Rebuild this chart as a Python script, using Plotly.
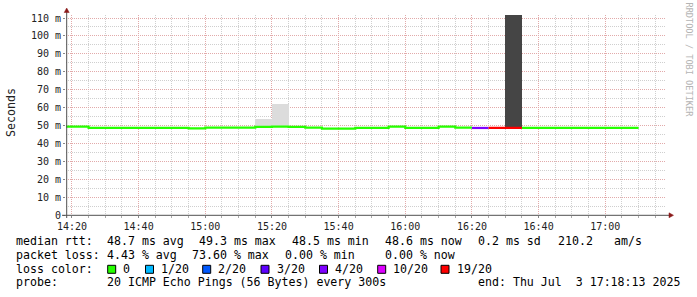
import plotly.graph_objects as go

# ---------------- data ----------------
DAY = "2025-07-03"
interval_start = ["14:15", "14:20", "14:25", "14:30", "14:35", "14:40", "14:45", "14:50",
                  "14:55", "15:00", "15:05", "15:10", "15:15", "15:20", "15:25", "15:30",
                  "15:35", "15:40", "15:45", "15:50", "15:55", "16:00", "16:05", "16:10",
                  "16:15", "16:20", "16:25", "16:30", "16:35", "16:40", "16:45", "16:50",
                  "16:55", "17:00", "17:05"]
median_ms = [49.3, 49.3, 48.7, 48.7, 48.7, 48.7, 48.7, 48.7,
             48.4, 48.8, 48.8, 48.8, 49.2, 49.3, 49.2, 48.8,
             48.2, 48.2, 48.7, 48.7, 49.3, 48.7, 48.7, 49.3,
             48.8, 48.6, 48.6, 48.6, 48.7, 48.7, 48.7, 48.7,
             48.7, 48.7, 48.6]
lost_pings = [0, 0, 0, 0, 0, 0, 0, 0,
              0, 0, 0, 0, 0, 0, 0, 0,
              0, 0, 0, 0, 0, 0, 0, 0,
              0, 3.6, 12.0, 14.72, 0, 0, 0, 0,
              0, 0, 0]
smoke_start = ["15:15", "15:20", "16:30"]
smoke_low = [49.2, 49.3, 48.6]
smoke_high = [53.7, 62.0, 118.0]

loss_thresholds = [0, 1, 2, 3, 4, 10, 19]
loss_labels = ["0", "1/20", "2/20", "3/20", "4/20", "10/20", "19/20"]
y_tickvals = [0, 10, 20, 30, 40, 50, 60, 70, 80, 90, 100, 110]
y_ticktext = ["0", "10 m", "20 m", "30 m", "40 m", "50 m", "60 m", "70 m", "80 m",
              "90 m", "100 m", "110 m"]
range_start = "2025-07-03 14:18:13"
range_end = "2025-07-03 17:18:13"

legend_line1 = [("median rtt:", 16.7), ("48.7 ms avg", 107.3), ("49.3 ms max", 200.0),
                ("48.5 ms min", 292.7), ("48.6 ms now", 386.0), ("0.2 ms sd", 479.0),
                ("210.2", 558.3), ("am/s", 614.3)]
legend_line2 = [("packet loss:", 16.7), ("4.43 % avg", 107.3), ("73.60 % max", 193.0),
                ("0.00 % min", 286.0), ("0.00 % now", 386.0)]
legend_line4 = [("probe:", 16.7), ("20 ICMP Echo Pings (56 Bytes) every 300s", 107.3),
                ("end: Thu Jul  3 17:18:13 2025", 478.3)]

# ---------------- styles ----------------
LOSS_COLORS = ["#26ff00", "#00b8ff", "#0059ff", "#5e00ff", "#7e00ff", "#dd00ff", "#ff0000"]
SMOKE_COLORS = ["#dcdcdc", "#dcdcdc", "#454545"]
MONO = "DejaVu Sans Mono"
W, H = 697, 297
L, R, T, B = 66, 666, 15, 215   # plot area pixels


def px(x):
    return (x - L) / (R - L)


def py(y):
    return (B - y) / (B - T)


def ts(hm):
    return f"{DAY} {hm}:00"


def add_minutes(hm, m):
    h, mi = map(int, hm.split(":"))
    t = h * 60 + mi + m
    return f"{t // 60:02d}:{t % 60:02d}"


def loss_index(lost):
    idx = 0
    for i, th in enumerate(loss_thresholds):
        if lost > (loss_thresholds[i - 1] if i > 0 else -1) and lost <= th:
            return i
        idx = i
    return idx


fig = go.Figure()

# smoke
for s, lo, hi, col in zip(smoke_start, smoke_low, smoke_high, SMOKE_COLORS):
    fig.add_trace(go.Bar(x=[ts(add_minutes(s, 0)).replace(":00", ":02", 1) if False else f"{DAY} {s}:00"],
                         y=[hi - lo], base=[lo], width=[300000], offset=0,
                         marker=dict(color=col, line=dict(width=0)), hoverinfo="skip"))

# median line, coloured by loss
colors_idx = [loss_index(l) for l in lost_pings]
runs = []
i = 0
while i < len(interval_start):
    j = i
    while j + 1 < len(interval_start) and colors_idx[j + 1] == colors_idx[i]:
        j += 1
    runs.append((i, j, colors_idx[i]))
    i = j + 1

for ci in sorted(set(colors_idx)):
    xs, ys = [], []
    for (a, b, c) in runs:
        if c != ci:
            continue
        for k in range(a, b + 1):
            xs.append(ts(interval_start[k]))
            ys.append(median_ms[k])
        xs.append(ts(add_minutes(interval_start[b], 5)))
        ys.append(median_ms[b])
        xs.append(None)
        ys.append(None)
    fig.add_trace(go.Scatter(x=xs, y=ys, mode="lines", line=dict(color=LOSS_COLORS[ci], width=2.2, shape="hv"),
                             connectgaps=False, hoverinfo="skip"))

GRID_MAJOR = "#e2aaaa"
GRID_MINOR = "#cfcfcf"

fig.update_layout(
    width=W, height=H, margin=dict(l=L, r=W - R, t=T, b=H - B, pad=0),
    paper_bgcolor="white", plot_bgcolor="white", showlegend=False,
    barmode="overlay", bargap=0,
    xaxis=dict(type="date", range=[range_start, range_end],
               tick0=f"{DAY} 14:20:00", dtick=1200000, tickformat="%H:%M",
               showgrid=True, gridcolor=GRID_MAJOR, griddash="1px,1px", gridwidth=1,
               ticks="outside", ticklen=2, tickcolor="#888888",
               minor=dict(dtick=300000, tick0=f"{DAY} 14:20:00", showgrid=True, gridcolor=GRID_MINOR,
                          griddash="1px,1px", ticks="outside", ticklen=2, tickcolor="#aaaaaa"),
               tickfont=dict(family=MONO, size=10, color="#222222"),
               showline=False, zeroline=False, fixedrange=True),
    yaxis=dict(range=[0, (B - T) / ((B - 18) / 110.0)], tickvals=y_tickvals, ticktext=y_ticktext,
               showgrid=True, gridcolor=GRID_MAJOR, griddash="1px,1px", gridwidth=1,
               ticks="outside", ticklen=2, tickcolor="#888888",
               minor=dict(dtick=5, showgrid=True, gridcolor=GRID_MINOR, griddash="1px,1px"),
               tickfont=dict(family=MONO, size=10, color="#222222"),
               showline=False, zeroline=False, fixedrange=True),
)

shapes = []
AX = "#505050"
ARROW = "#8b1a1a"
# axis lines
shapes.append(dict(type="line", xref="paper", yref="paper", x0=px(66.7), x1=px(66.7), y0=py(218), y1=py(12),
                   line=dict(color=AX, width=1)))
shapes.append(dict(type="line", xref="paper", yref="paper", x0=px(62), x1=px(669), y0=py(215.3), y1=py(215.3),
                   line=dict(color=AX, width=1)))
# arrows
shapes.append(dict(type="path", xref="paper", yref="paper",
                   path=f"M {px(64.2)} {py(12.5)} L {px(69.2)} {py(12.5)} L {px(66.7)} {py(8)} Z",
                   fillcolor=ARROW, line=dict(color=ARROW, width=0.5)))
shapes.append(dict(type="path", xref="paper", yref="paper",
                   path=f"M {px(669)} {py(212.8)} L {px(669)} {py(217.8)} L {px(673.5)} {py(215.3)} Z",
                   fillcolor=ARROW, line=dict(color=ARROW, width=0.5)))

annotations = []


def text(s, x, y, size=11.6, color="#000000", angle=0, xanchor="left"):
    annotations.append(dict(text=s, x=px(x), y=py(y), xref="paper", yref="paper", showarrow=False,
                            xanchor=xanchor, yanchor="middle", textangle=angle,
                            borderpad=0, borderwidth=0,
                            font=dict(family=MONO, size=size, color=color)))


for s, x in legend_line1:
    text(s, x - 0.8, 241.3)
for s, x in legend_line2:
    text(s, x - 0.8, 254.7)
text("loss color:", 16.7 - 0.8, 268.7)
box_centers = [111.7, 149.5, 206.7, 265.0, 323.5, 381.7, 445.0]
for lab, col, cx in zip(loss_labels, LOSS_COLORS, box_centers):
    shapes.append(dict(type="rect", xref="paper", yref="paper", x0=px(cx - 4), x1=px(cx + 4),
                       y0=py(265.3), y1=py(273.3), fillcolor=col, line=dict(color="#000000", width=1)))
    text(lab, cx + 11.5, 268.7)
for s, x in legend_line4:
    text(s, x - 0.8, 282.3)

text("Seconds", 11, 113, size=11.6, color="#222222", angle=-90, xanchor="center")
text("RRDTOOL / TOBI OETIKER", 688.5, 60, size=8.6, color="#b4b4b4", angle=90, xanchor="center")

fig.update_layout(shapes=shapes, annotations=annotations)
fig.write_html("out.html")
